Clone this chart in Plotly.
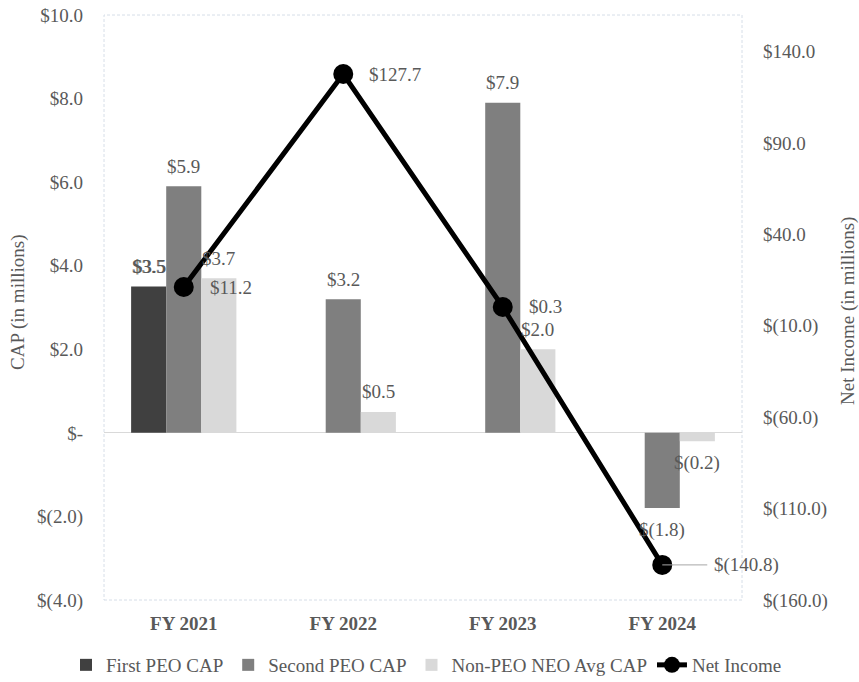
import plotly.graph_objects as go

categories = ["FY 2021", "FY 2022", "FY 2023", "FY 2024"]
first_peo_cap = [3.5, None, None, None]
second_peo_cap = [5.9, 3.2, 7.9, -1.8]
non_peo_neo_avg_cap = [3.7, 0.5, 2.0, -0.2]
net_income = [11.2, 127.7, 0.3, -140.8]

left_tickvals = [-4, -2, 0, 2, 4, 6, 8, 10]
right_tickvals = [-160, -110, -60, -10, 40, 90, 140]

FONT = "Liberation Serif"
GRAY = "#595959"
FS = 19


def money(v):
    if v == 0:
        return "$-"
    return f"${v:.1f}" if v > 0 else f"$({abs(v):.1f})"


W, H = 859, 682
ML, MR, MT, MB = 104, 117, 15, 82
BARGAP = 0.34
plot_w = W - ML - MR
plot_h = H - MT - MB
bar_px = plot_w / len(categories) * (1 - BARGAP) / 3


def fnt(size=FS, color=GRAY):
    return dict(family=FONT, size=size, color=color)


fig = go.Figure()
bar_series = [
    ("First PEO CAP", first_peo_cap, "#404040"),
    ("Second PEO CAP", second_peo_cap, "#7f7f7f"),
    ("Non-PEO NEO Avg CAP", non_peo_neo_avg_cap, "#d9d9d9"),
]
for name, vals, col in bar_series:
    fig.add_trace(go.Bar(name=name, x=categories, y=vals, marker_color=col,
                         marker_line_width=0, yaxis="y"))

fig.add_trace(go.Scatter(name="Net Income", x=categories, y=net_income, yaxis="y2",
                         mode="lines+markers",
                         line=dict(color="black", width=5),
                         marker=dict(color="black", size=20)))

annotations = []
for i, (name, vals, col) in enumerate(bar_series):
    xs = (i - 1) * bar_px
    for c, v in zip(categories, vals):
        if v is None:
            continue
        shifts = [0, 1] if i == 0 else [0]
        for extra in shifts:
            annotations.append(dict(x=c, y=v, xref="x", yref="y", text=money(v),
                                    showarrow=False, xshift=xs + extra,
                                    xanchor="center", yanchor="middle",
                                    yshift=20 if v >= 0 else -22,
                                    font=fnt()))

for j, (c, v) in enumerate(zip(categories, net_income)):
    if j < len(categories) - 1:
        annotations.append(dict(x=c, y=v, xref="x", yref="y2", text=money(v),
                                showarrow=False, xanchor="left", yanchor="middle",
                                xshift=24, font=fnt()))
    else:
        annotations.append(dict(x=c, y=v, xref="x", yref="y2", text=money(v),
                                showarrow=True, arrowhead=0, arrowwidth=1,
                                arrowcolor="#a6a6a6", ax=84, ay=0, standoff=0,
                                borderpad=6, font=fnt()))

annotations.append(dict(x=(18 - ML) / plot_w, y=(H - MB - 303) / plot_h,
                        xref="paper", yref="paper", xanchor="center", yanchor="middle",
                        text="CAP (in millions)", textangle=-90, showarrow=False,
                        font=fnt()))
annotations.append(dict(x=(848 - ML) / plot_w, y=(H - MB - 311) / plot_h,
                        xref="paper", yref="paper", xanchor="center", yanchor="middle",
                        text="Net Income (in millions)", textangle=-90, showarrow=False,
                        font=fnt()))

fig.update_layout(
    width=W, height=H,
    margin=dict(l=ML, r=MR, t=MT, b=MB, autoexpand=False),
    paper_bgcolor="white", plot_bgcolor="white",
    barmode="group", bargap=BARGAP, bargroupgap=0,
    font=fnt(),
    showlegend=True,
    legend=dict(orientation="h", x=(66 - ML) / plot_w, xanchor="left",
                y=-(665 - (H - MB)) / plot_h, yanchor="middle",
                font=fnt(), itemwidth=30, traceorder="normal"),
    xaxis=dict(type="category", range=[-0.5, len(categories) - 0.5],
               showgrid=False, showline=False, ticks="",
               tickvals=categories, ticktext=[f"<b>{c}</b>" for c in categories],
               tickfont=fnt(), ticklabelstandoff=10),
    yaxis=dict(range=[-4, 10], tickvals=left_tickvals,
               ticktext=[money(v) for v in left_tickvals],
               showgrid=False, zeroline=True, zerolinecolor="#d9d9d9", zerolinewidth=1,
               showline=False, ticks="", ticklabelstandoff=20,
               tickfont=fnt()),
    yaxis2=dict(range=[-160, 160], tickvals=right_tickvals,
                ticktext=[money(v) for v in right_tickvals],
                overlaying="y", side="right", showgrid=False, zeroline=False,
                showline=False, ticks="", ticklabelstandoff=20,
                tickfont=fnt()),
    annotations=annotations,
    shapes=[dict(type="rect", xref="paper", yref="paper", x0=0, x1=1, y0=0, y1=1,
                 line=dict(color="#d6dee8", width=1, dash="3px,2px"), layer="below")],
)

fig.write_html("out.html")
